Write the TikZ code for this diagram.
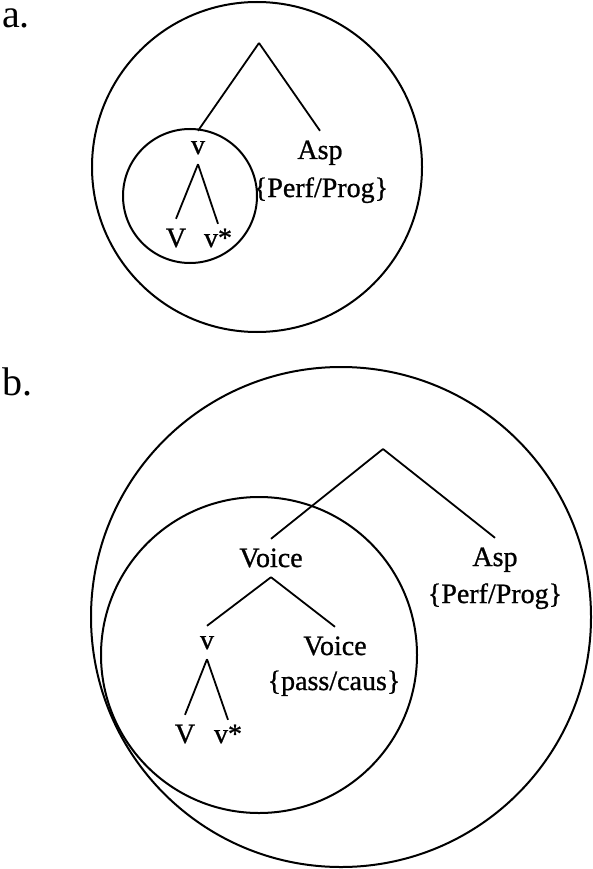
\documentclass[tikz,border=0pt]{standalone}
\usepackage{fontspec}
\setmainfont{Liberation Serif}[BoldFont=Liberation Serif,BoldFeatures={FakeBold=0.9}]
\begin{document}
\begin{tikzpicture}[x=1pt,y=-1pt,
  ring/.style={draw=black,line width=2pt},
  branch/.style={draw=black,line width=1.8pt},
  lbl/.style={font=\fontsize{28}{32}\bfseries,anchor=base,inner xsep=1pt,inner ysep=10pt,text height=18pt,text depth=0pt},
  xlbl/.style={lbl,text height=13pt},
  feat/.style={font=\fontsize{28}{32}\bfseries,anchor=base,inner sep=0pt},
  panel/.style={font=\fontsize{40}{46}\selectfont,anchor=base west,inner sep=0pt,text height=20pt,text depth=0pt}]
\useasboundingbox (0,0) rectangle (592,869);
% ---- panel a ----
\node[panel] (pa) at (2,28) {a.};
\draw[ring] (257,167) circle[radius=165];
\draw[ring] (190,196) circle[radius=67];
\coordinate (topA) at (259,43);
\node[xlbl] (vA) at (198,154) {v};
\node[lbl] (aspA) at (320,159) {Asp};
\node[feat] (pfA) at (321,197) {\{Perf/Prog\}};
\node[lbl] (VA) at (176,247) {V};
\node[xlbl] (vsA) at (218,247) {v*};
\draw[branch] (topA) -- (vA.north);
\draw[branch] (topA) -- (aspA.north);
\draw[branch] (vA.south) -- (VA.north);
\draw[branch] (vA.south) -- (vsA.north);
% ---- panel b ----
\node[panel] (pb) at (2,395) {b.};
\draw[ring] (341,617) circle[radius=250];
\draw[ring] (259,655) circle[radius=158];
\coordinate (topB) at (383,449);
\node[lbl] (voiceB) at (271,567) {Voice};
\node[lbl] (aspB) at (495,566) {Asp};
\node[feat] (pfB) at (495,603) {\{Perf/Prog\}};
\node[xlbl] (vB) at (207,649) {v};
\node[lbl] (voice2B) at (335,655) {Voice};
\node[feat] (pcB) at (334,690) {\{pass/caus\}};
\node[lbl] (VB) at (185,743) {V};
\node[xlbl] (vsB) at (228,743) {v*};
\draw[branch] (topB) -- (voiceB.north);
\draw[branch] (topB) -- (aspB.north);
\draw[branch] (voiceB.south) -- (vB.north);
\draw[branch] (voiceB.south) -- (voice2B.north);
\draw[branch] (vB.south) -- (VB.north);
\draw[branch] (vB.south) -- (vsB.north);
\end{tikzpicture}
\end{document}
